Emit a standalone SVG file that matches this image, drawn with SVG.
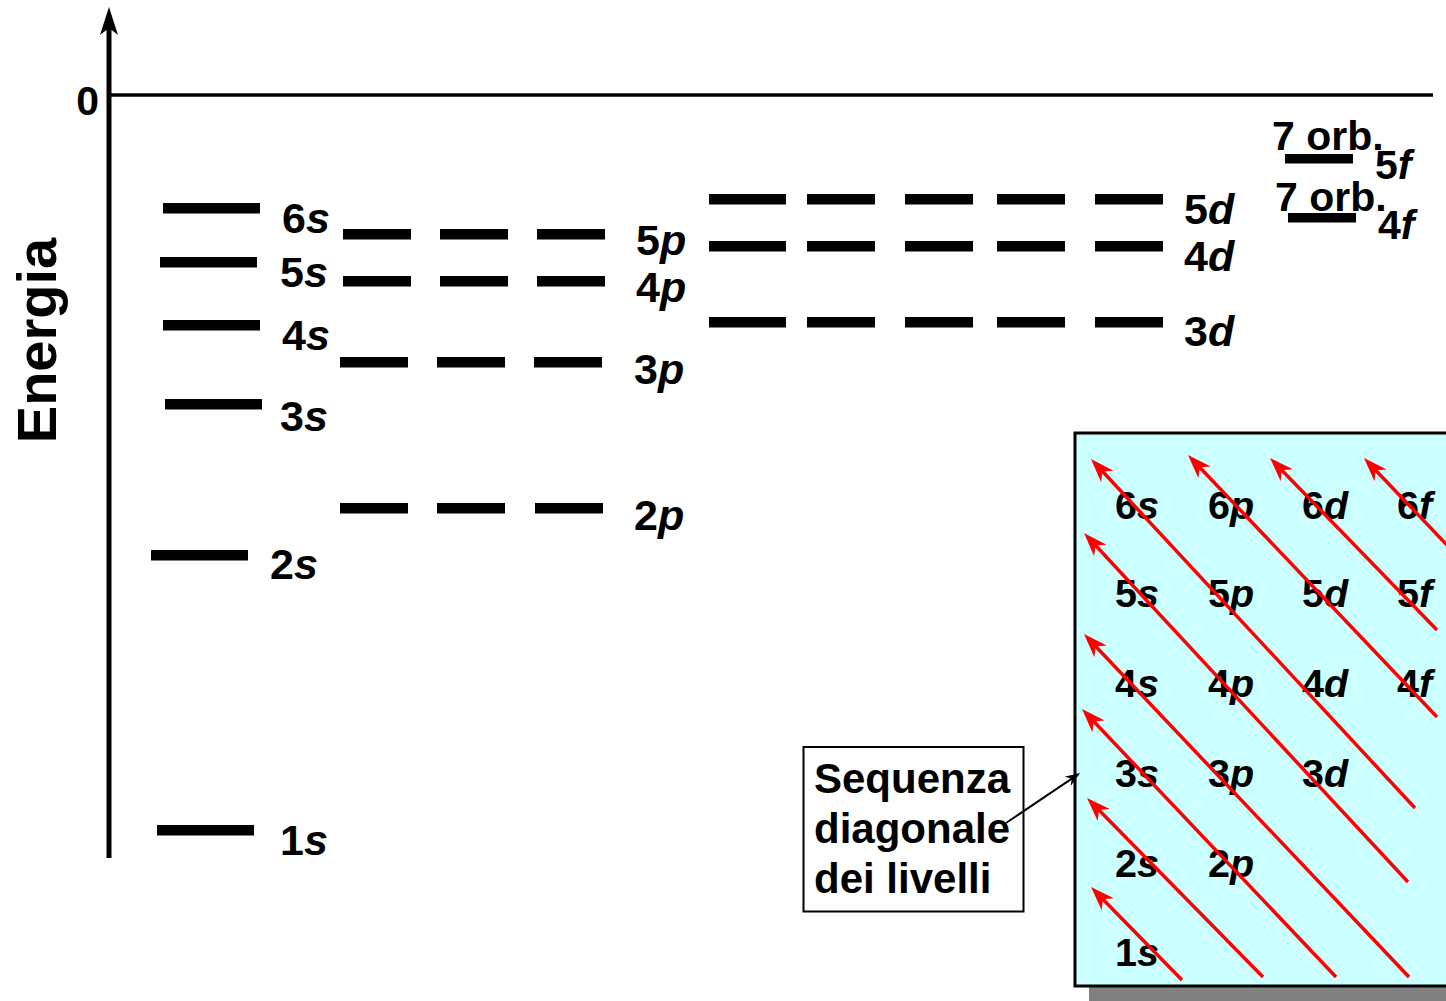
<svg xmlns="http://www.w3.org/2000/svg" width="1446" height="1001" viewBox="0 0 1446 1001">
  <style>
    .lbl { font-family: "Liberation Sans", Arial, sans-serif; font-weight: bold; font-size: 43px; fill: #000; }
    .ins { font-family: "Liberation Sans", Arial, sans-serif; font-weight: bold; font-size: 39.5px; fill: #000; }
    .box { font-family: "Liberation Sans", Arial, sans-serif; font-weight: bold; font-size: 42px; fill: #000; }
    .it { font-style: italic; }
    .bar { fill: #000; }
    .red { stroke: #f00; stroke-width: 3.5; fill: none; marker-start: url(#rh); }
  </style>
  <defs>
    <marker id="rh" markerUnits="userSpaceOnUse" viewBox="-16 -10 28 20" refX="0" refY="0" markerWidth="28" markerHeight="20" orient="auto-start-reverse">
      <path d="M10,0 L-14,-8.5 L-7,0 L-14,8.5 Z" fill="#f00"/>
    </marker>
    <marker id="ax" markerUnits="userSpaceOnUse" viewBox="-17 -11 32 22" refX="0" refY="0" markerWidth="32" markerHeight="22" orient="auto">
      <path d="M13,0 L-15,-9 L-8,0 L-15,9 Z" fill="#000"/>
    </marker>
    <marker id="bk" markerUnits="userSpaceOnUse" viewBox="-11 -7 18 14" refX="0" refY="0" markerWidth="18" markerHeight="14" orient="auto">
      <path d="M5,0 L-10,-5.5 L-5,0 L-10,5.5 Z" fill="#000"/>
    </marker>
  </defs>

  <!-- energy axis and zero level -->
  <g id="axis">
    <path d="M109,858 L109,20" stroke="#000" stroke-width="5" fill="none" marker-end="url(#ax)"/>
    <path d="M111,95 L1433,95" stroke="#000" stroke-width="3.5"/>
    <text class="lbl" x="99" y="115" text-anchor="end" style="font-size:41px">0</text>
    <text class="lbl" transform="translate(56,340.5) rotate(-90)" text-anchor="middle" style="font-size:56px">Energia</text>
  </g>

  <!-- s levels -->
  <g id="s-levels">
    <rect class="bar" x="163" y="203" width="97" height="10.5"/>
    <rect class="bar" x="160" y="257" width="97" height="10.5"/>
    <rect class="bar" x="163" y="320" width="97" height="10.5"/>
    <rect class="bar" x="165" y="399" width="97" height="10.5"/>
    <rect class="bar" x="151" y="550" width="97" height="10.5"/>
    <rect class="bar" x="157" y="825" width="97" height="10.5"/>
    <text class="lbl" x="282" y="233">6<tspan class="it">s</tspan></text>
    <text class="lbl" x="280" y="287">5<tspan class="it">s</tspan></text>
    <text class="lbl" x="282" y="350">4<tspan class="it">s</tspan></text>
    <text class="lbl" x="280" y="431">3<tspan class="it">s</tspan></text>
    <text class="lbl" x="270" y="579">2<tspan class="it">s</tspan></text>
    <text class="lbl" x="280" y="855">1<tspan class="it">s</tspan></text>
  </g>

  <!-- p levels -->
  <g id="p-levels">
    <rect class="bar" x="343" y="229" width="68" height="10.5"/>
    <rect class="bar" x="440" y="229" width="68" height="10.5"/>
    <rect class="bar" x="537" y="229" width="68" height="10.5"/>
    <rect class="bar" x="343" y="276" width="68" height="10.5"/>
    <rect class="bar" x="440" y="276" width="68" height="10.5"/>
    <rect class="bar" x="537" y="276" width="68" height="10.5"/>
    <rect class="bar" x="340" y="357" width="68" height="10.5"/>
    <rect class="bar" x="437" y="357" width="68" height="10.5"/>
    <rect class="bar" x="534" y="357" width="68" height="10.5"/>
    <rect class="bar" x="340" y="503" width="68" height="10.5"/>
    <rect class="bar" x="437" y="503" width="68" height="10.5"/>
    <rect class="bar" x="535" y="503" width="68" height="10.5"/>
    <text class="lbl" x="636" y="255">5<tspan class="it">p</tspan></text>
    <text class="lbl" x="636" y="302">4<tspan class="it">p</tspan></text>
    <text class="lbl" x="634" y="384">3<tspan class="it">p</tspan></text>
    <text class="lbl" x="634" y="530">2<tspan class="it">p</tspan></text>
  </g>

  <!-- d levels -->
  <g id="d-levels">
    <rect class="bar" x="709" y="194" width="77" height="10.5"/>
    <rect class="bar" x="807" y="194" width="68" height="10.5"/>
    <rect class="bar" x="905" y="194" width="68" height="10.5"/>
    <rect class="bar" x="997" y="194" width="68" height="10.5"/>
    <rect class="bar" x="1095" y="194" width="68" height="10.5"/>
    <rect class="bar" x="709" y="241" width="77" height="10.5"/>
    <rect class="bar" x="807" y="241" width="68" height="10.5"/>
    <rect class="bar" x="905" y="241" width="68" height="10.5"/>
    <rect class="bar" x="997" y="241" width="68" height="10.5"/>
    <rect class="bar" x="1095" y="241" width="68" height="10.5"/>
    <rect class="bar" x="709" y="317" width="77" height="10.5"/>
    <rect class="bar" x="807" y="317" width="68" height="10.5"/>
    <rect class="bar" x="905" y="317" width="68" height="10.5"/>
    <rect class="bar" x="997" y="317" width="68" height="10.5"/>
    <rect class="bar" x="1095" y="317" width="68" height="10.5"/>
    <text class="lbl" x="1184" y="224">5<tspan class="it">d</tspan></text>
    <text class="lbl" x="1184" y="271">4<tspan class="it">d</tspan></text>
    <text class="lbl" x="1184" y="346">3<tspan class="it">d</tspan></text>
  </g>

  <!-- f levels: seven orbitals each -->
  <g id="f-levels">
    <text class="lbl" x="1272" y="150" style="font-size:41px">7 orb.</text>
    <text class="lbl" x="1275" y="211" style="font-size:41px">7 orb.</text>
    <rect class="bar" x="1285" y="154" width="68" height="9.5"/>
    <rect class="bar" x="1288" y="213" width="68" height="9.5"/>
    <text class="lbl" x="1375" y="179" style="font-size:41px">5<tspan class="it">f</tspan></text>
    <text class="lbl" x="1378" y="239" style="font-size:41px">4<tspan class="it">f</tspan></text>
  </g>

  <!-- diagonal filling order chart -->
  <g id="order-chart">
    <rect x="1089" y="447" width="400" height="560" fill="#808080"/>
    <rect x="1075" y="433" width="400" height="553" fill="#ccffff" stroke="#000" stroke-width="3"/>
    <text class="ins" x="1115" y="519">6<tspan class="it">s</tspan></text>
    <text class="ins" x="1208" y="519">6<tspan class="it">p</tspan></text>
    <text class="ins" x="1302" y="519">6<tspan class="it">d</tspan></text>
    <text class="ins" x="1397" y="519">6<tspan class="it">f</tspan></text>
    <text class="ins" x="1115" y="607">5<tspan class="it">s</tspan></text>
    <text class="ins" x="1208" y="607">5<tspan class="it">p</tspan></text>
    <text class="ins" x="1302" y="607">5<tspan class="it">d</tspan></text>
    <text class="ins" x="1397" y="607">5<tspan class="it">f</tspan></text>
    <text class="ins" x="1115" y="697">4<tspan class="it">s</tspan></text>
    <text class="ins" x="1208" y="697">4<tspan class="it">p</tspan></text>
    <text class="ins" x="1302" y="697">4<tspan class="it">d</tspan></text>
    <text class="ins" x="1397" y="697">4<tspan class="it">f</tspan></text>
    <text class="ins" x="1115" y="787">3<tspan class="it">s</tspan></text>
    <text class="ins" x="1208" y="787">3<tspan class="it">p</tspan></text>
    <text class="ins" x="1302" y="787">3<tspan class="it">d</tspan></text>
    <text class="ins" x="1115" y="877">2<tspan class="it">s</tspan></text>
    <text class="ins" x="1208" y="877">2<tspan class="it">p</tspan></text>
    <text class="ins" x="1115" y="966">1<tspan class="it">s</tspan></text>
  </g>

  <!-- callout -->
  <g id="callout">
    <rect x="803.5" y="747" width="220" height="164.5" fill="#fff" stroke="#000" stroke-width="2"/>
    <text class="box" x="814" y="793">Sequenza</text>
    <text class="box" x="814" y="843">diagonale</text>
    <text class="box" x="814" y="893">dei livelli</text>
  </g>

  <!-- connectors: diagonal arrows and the callout pointer -->
  <g id="connectors">
    <path class="red" d="M1098.0,894.2 L1182,980"/>
    <path class="red" d="M1094.0,805.1 L1263,977"/>
    <path class="red" d="M1088.9,716.3 L1336,977"/>
    <path class="red" d="M1090.9,641.3 L1409,977"/>
    <path class="red" d="M1090.8,540.3 L1408,882"/>
    <path class="red" d="M1097.8,466.3 L1415,808"/>
    <path class="red" d="M1194.9,462.3 L1437,717"/>
    <path class="red" d="M1277.0,465.2 L1437,630"/>
    <path class="red" d="M1370.9,465.2 L1460,558.7"/>
    <path d="M1006,823 L1075.9,775.8" stroke="#000" stroke-width="2" fill="none" marker-end="url(#bk)"/>
  </g>
</svg>
